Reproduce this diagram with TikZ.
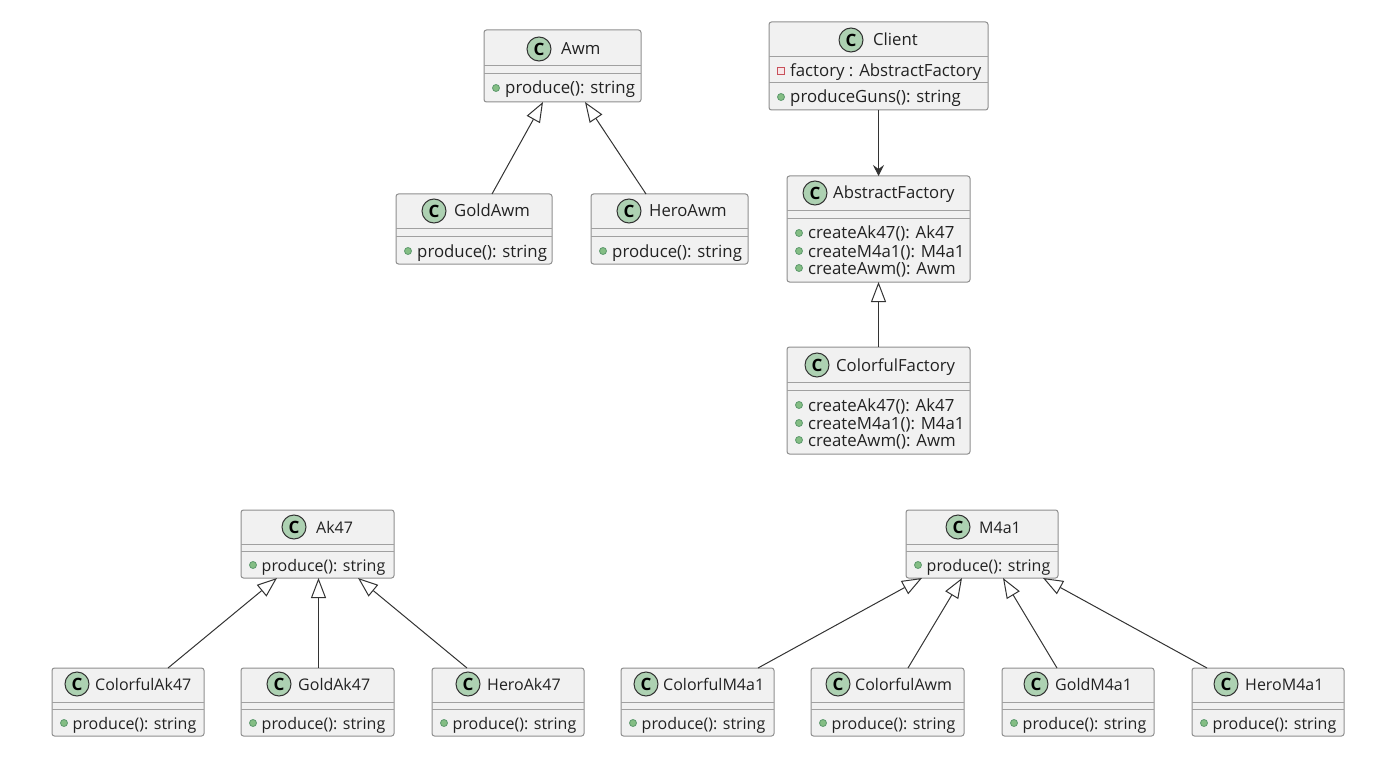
\documentclass[tikz,border=0pt]{standalone}
\usepackage{fontspec}
\setmainfont{Open Sans}
\usetikzlibrary{arrows.meta}
\definecolor{boxfill}{HTML}{F1F1F1}
\definecolor{boxline}{HTML}{8E8E8E}
\definecolor{sepline}{HTML}{A0A0A0}
\definecolor{cfill}{HTML}{ADD1B2}
\definecolor{ink}{HTML}{333333}
\definecolor{txt}{HTML}{222222}
\definecolor{dotfill}{HTML}{84BE84}
\definecolor{dotline}{HTML}{5E9A6E}
\definecolor{sqline}{HTML}{C8505A}
\definecolor{sqfill}{HTML}{F7E6E8}
\tikzset{
  umlbox/.style={draw=boxline,fill=boxfill,rounded corners=2.5pt,line width=1pt,inner sep=0pt,outer sep=0pt},
  sepstyle/.style={draw=sepline,line width=1pt},
  titletext/.style={anchor=base west,inner sep=0pt,font=\fontsize{16.7}{18}\selectfont,text=txt},
  membertext/.style={anchor=base west,inner sep=0pt,font=\fontsize{16.8}{18}\selectfont,text=txt},
  lowerrows/.style={
    titletext/.append style={font=\fontsize{16}{18}\selectfont},
    membertext/.append style={font=\fontsize{16}{18}\selectfont}},
  cbadge/.style={circle,draw=ink,fill=cfill,line width=1pt,minimum size=24pt,inner sep=0pt,font=\fontsize{17}{17}\selectfont\bfseries,text=black},
  pubdot/.style={circle,draw=dotline,fill=dotfill,line width=.8pt,minimum size=7pt,inner sep=0pt},
  privsq/.style={rectangle,draw=sqline,fill=sqfill,line width=1pt,minimum size=7.5pt,inner sep=0pt},
  ext/.style={draw=ink,line width=1pt,-{Triangle[open,fill=white,length=20pt,width=15pt,line width=1pt]}},
  assoc/.style={draw=ink,line width=1.1pt,-{Stealth[length=11pt,width=11pt,inset=4pt]}},
}
\newcount\mcnt
\newcommand{\mtx}{21}
% id x1 y1 x2 y2 sep1 sep2
\newcommand{\umlclass}[7]{%
  \pgfmathsetmacro{\bw}{#4-#2}\pgfmathsetmacro{\bh}{#5-#3}%
  \pgfmathsetmacro{\bx}{(#4+#2)/2}\pgfmathsetmacro{\by}{(#5+#3)/2}%
  \node[umlbox,minimum width=\bw pt,minimum height=\bh pt] (#1) at (\bx,\by) {};
  \draw[sepstyle] (#1.west |- 0,#6) -- (#1.east |- 0,#6);
  \draw[sepstyle] (#1.west |- 0,#7) -- (#1.east |- 0,#7);
}
% id cy cx tx title
\newcommand{\umltitle}[5]{%
  \node[cbadge] (#1-c) at (#3,#2) {C};
  \node[titletext] (#1-t) at (#4,#2+6) {#5};
}
% id x y style text
\newcommand{\umlmember}[5]{%
  \global\advance\mcnt by 1
  \node[#4] (#1-k\the\mcnt) at (#2+12,#3) {};
  \node[membertext] (#1-m\the\mcnt) at (#2+\mtx,#3+6) {#5};
}
\begin{document}
\begin{tikzpicture}[x=1pt,y=-1pt]
\useasboundingbox (0,0) rectangle (1400,778);

\umlclass{Awm}{484}{30}{641}{102}{66}{74}
\umltitle{Awm}{49}{539}{561}{Awm}
\umlmember{Awm}{484}{88}{pubdot}{produce(): string}

\umlclass{Client}{769}{22}{988}{110}{57}{83}
\umltitle{Client}{40}{851}{873}{Client}
\umlmember{Client}{769}{71}{privsq}{factory : AbstractFactory}
\umlmember{Client}{769}{97}{pubdot}{produceGuns(): string}

\umlclass{GoldAwm}{396}{194}{552}{264}{229}{237}
\umltitle{GoldAwm}{211}{434}{454}{GoldAwm}
\umlmember{GoldAwm}{396}{251}{pubdot}{produce(): string}

\umlclass{HeroAwm}{591}{194}{748}{264}{229}{237}
\umltitle{HeroAwm}{211}{629}{649}{HeroAwm}
\umlmember{HeroAwm}{591}{251}{pubdot}{produce(): string}

\umlclass{AbstractFactory}{787}{176}{970}{282}{211}{219}
\umltitle{AbstractFactory}{193}{815}{833}{AbstractFactory}
\umlmember{AbstractFactory}{787}{233}{pubdot}{createAk47(): Ak47}
\umlmember{AbstractFactory}{787}{251}{pubdot}{createM4a1(): M4a1}
\umlmember{AbstractFactory}{787}{268}{pubdot}{createAwm(): Awm}

\umlclass{ColorfulFactory}{787}{347}{970}{454}{382}{390}
\umltitle{ColorfulFactory}{365}{817}{836}{ColorfulFactory}
\umlmember{ColorfulFactory}{787}{405}{pubdot}{createAk47(): Ak47}
\umlmember{ColorfulFactory}{787}{423}{pubdot}{createM4a1(): M4a1}
\umlmember{ColorfulFactory}{787}{440}{pubdot}{createAwm(): Awm}

\begin{scope}[lowerrows]
\renewcommand{\mtx}{20.5}
\umlclass{Ak47}{241}{510}{394}{578}{544}{551}
\umltitle{Ak47}{527}{294}{316}{Ak47}
\umlmember{Ak47}{241}{565}{pubdot}{produce(): string}

\umlclass{M4a1}{906}{510}{1058}{578}{544}{551}
\umltitle{M4a1}{527}{958}{979}{M4a1}
\umlmember{M4a1}{906}{565}{pubdot}{produce(): string}

\umlclass{ColorfulAk47}{52}{668}{204}{736}{702}{709}
\umltitle{ColorfulAk47}{684}{77}{95}{ColorfulAk47}
\umlmember{ColorfulAk47}{52}{723}{pubdot}{produce(): string}

\umlclass{GoldAk47}{241}{668}{394}{736}{702}{709}
\umltitle{GoldAk47}{684}{279}{298}{GoldAk47}
\umlmember{GoldAk47}{241}{723}{pubdot}{produce(): string}

\umlclass{HeroAk47}{432}{668}{584}{736}{702}{709}
\umltitle{HeroAk47}{684}{468}{487}{HeroAk47}
\umlmember{HeroAk47}{432}{723}{pubdot}{produce(): string}

\umlclass{ColorfulM4a1}{621}{668}{774}{736}{702}{709}
\umltitle{ColorfulM4a1}{684}{646}{663}{ColorfulM4a1}
\umlmember{ColorfulM4a1}{621}{723}{pubdot}{produce(): string}

\umlclass{ColorfulAwm}{811}{668}{964}{736}{702}{709}
\umltitle{ColorfulAwm}{684}{838}{855}{ColorfulAwm}
\umlmember{ColorfulAwm}{811}{723}{pubdot}{produce(): string}

\umlclass{GoldM4a1}{1002}{668}{1154}{736}{702}{709}
\umltitle{GoldM4a1}{684}{1036}{1055}{GoldM4a1}
\umlmember{GoldM4a1}{1002}{723}{pubdot}{produce(): string}

\umlclass{HeroM4a1}{1192}{668}{1344}{736}{702}{709}
\umltitle{HeroM4a1}{684}{1226}{1245}{HeroM4a1}
\umlmember{HeroM4a1}{1192}{723}{pubdot}{produce(): string}
\end{scope}

\draw[assoc] ([xshift=109.5pt]Client.south west) -- ([xshift=91.5pt]AbstractFactory.north west);
\draw[ext] ([xshift=91.5pt]ColorfulFactory.north west) -- ([xshift=91.5pt]AbstractFactory.south west);
\draw[ext] ([xshift=96pt]GoldAwm.north west) -- ([xshift=59pt]Awm.south west);
\draw[ext] ([xshift=55pt]HeroAwm.north west) -- ([xshift=101pt]Awm.south west);
\draw[ext] ([xshift=116pt]ColorfulAk47.north west) -- ([xshift=36pt]Ak47.south west);
\draw[ext] ([xshift=77.5pt]GoldAk47.north west) -- ([xshift=77.5pt]Ak47.south west);
\draw[ext] ([xshift=35pt]HeroAk47.north west) -- ([xshift=117pt]Ak47.south west);
\draw[ext] ([xshift=137pt]ColorfulM4a1.north west) -- ([xshift=16pt]M4a1.south west);
\draw[ext] ([xshift=97pt]ColorfulAwm.north west) -- ([xshift=56pt]M4a1.south west);
\draw[ext] ([xshift=55pt]GoldM4a1.north west) -- ([xshift=97pt]M4a1.south west);
\draw[ext] ([xshift=15pt]HeroM4a1.north west) -- ([xshift=137pt]M4a1.south west);
\end{tikzpicture}
\end{document}
